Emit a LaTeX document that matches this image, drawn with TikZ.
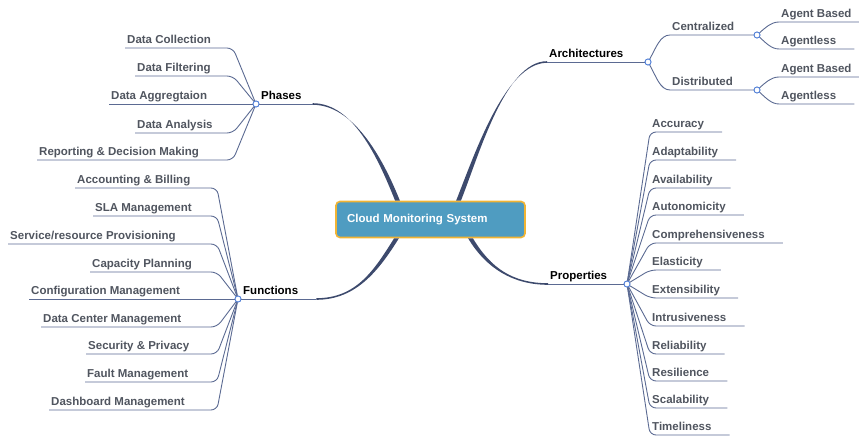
\documentclass[tikz,border=0pt]{standalone}
\usepackage{fontspec}
\setmainfont{Liberation Sans}

\definecolor{leafgray}{HTML}{50555F}
\definecolor{twigblue}{HTML}{5B6A92}
\definecolor{trunkblue}{HTML}{3D4A6D}
\definecolor{hubblue}{HTML}{4A7BD6}
\definecolor{rootfill}{HTML}{4F9CC1}
\definecolor{rootline}{HTML}{F1B434}

\begin{document}
\begin{tikzpicture}[x=1pt,y=-1pt]
\tikzstyle{every node}=[font=\bfseries\fontsize{11.5}{13}\selectfont]
\tikzstyle{leaf}=[anchor=south west,text=leafgray,inner xsep=2pt,inner ysep=1.5pt,text height=8.5pt,text depth=2.5pt]
\tikzstyle{topic}=[leaf,text=black]
\tikzstyle{hub}=[circle,draw=hubblue,fill=white,line width=0.8pt,inner sep=0pt,minimum size=6pt]
\tikzstyle{twig}=[draw=twigblue,line width=0.9pt]
\tikzstyle{elbow}=[twig,rounded corners=6pt]
\tikzstyle{root}=[rectangle,rounded corners=4pt,fill=rootfill,draw=rootline,line width=1.6pt,
  text=white,text width=167pt,inner xsep=11pt,align=left,minimum height=36pt]

\useasboundingbox (0,0) rectangle (859,436);

% centre and main branches
\node[root] (cms) at (430.5,219.5) {Cloud Monitoring System};
\coordinate (cnw) at ([xshift=-33pt]cms.north);
\coordinate (cne) at ([xshift=28pt]cms.north);
\coordinate (csw) at ([xshift=-34pt]cms.south);
\coordinate (cse) at ([xshift=40pt]cms.south);

\node[topic] (phases) at (259,104) {Phases};
\node[topic] (arch) at (547,62) {Architectures};
\node[topic] (func) at (241,299) {Functions};
\node[topic] (prop) at (548,284) {Properties};
\coordinate (pt) at ([xshift=9pt]phases.south east);
\coordinate (at) at (arch.south west);
\coordinate (ft) at ([xshift=16pt]func.south east);
\coordinate (rt) at (prop.south west);

\fill[trunkblue] ([yshift=0.8pt]pt) .. controls +(40,0) and +(-18,-45) .. ([xshift=-2.4pt]cnw)
  -- ([xshift=2.4pt]cnw) .. controls +(-18,-45) and +(40,0) .. ([yshift=-0.8pt]pt) -- cycle;
\fill[trunkblue] ([yshift=0.8pt]at) .. controls +(-42,0) and +(18,-45) .. ([xshift=2.4pt]cne)
  -- ([xshift=-2.4pt]cne) .. controls +(18,-45) and +(-42,0) .. ([yshift=-0.8pt]at) -- cycle;
\fill[trunkblue] ([yshift=0.8pt]ft) .. controls +(40,0) and +(-20,32) .. ([xshift=-2.4pt]csw)
  -- ([xshift=2.4pt]csw) .. controls +(-20,32) and +(40,0) .. ([yshift=-0.8pt]ft) -- cycle;
\fill[trunkblue] ([yshift=0.8pt]rt) .. controls +(-35,0) and +(18,30) .. ([xshift=2.4pt]cse)
  -- ([xshift=-2.4pt]cse) .. controls +(18,30) and +(-35,0) .. ([yshift=-0.8pt]rt) -- cycle;

% phases
\node[hub] (phub) at (256,104) {};
\coordinate (pbend) at (233,104);
\draw[twig] (pt) -- (phub);
\node[leaf] (p1) at (125,48) {Data Collection};
\node[leaf] (p2) at (135,76) {Data Filtering};
\node[leaf] (p3) at (109,104) {Data Aggregtaion};
\node[leaf] (p4) at (135,133) {Data Analysis};
\node[leaf] (p5) at (37,160) {Reporting \& Decision Making};
\draw[elbow] (p1.south west) -- (p1.south west -| pbend) -- (phub);
\draw[elbow] (p2.south west) -- (p2.south west -| pbend) -- (phub);
\draw[elbow] (p3.south west) -- (phub);
\draw[elbow] (p4.south west) -- (p4.south west -| pbend) -- (phub);
\draw[elbow] (p5.south west) -- (p5.south west -| pbend) -- (phub);

% functions
\node[hub] (fhub) at (238,299) {};
\coordinate (fbend) at (217,299);
\draw[twig] (ft) -- (fhub);
\node[leaf] (f1) at (75,188) {Accounting \& Billing};
\node[leaf] (f2) at (93,216) {SLA Management};
\node[leaf] (f3) at (8,244) {Service/resource Provisioning};
\node[leaf] (f4) at (90,272) {Capacity Planning};
\node[leaf] (f5) at (29,299) {Configuration Management};
\node[leaf] (f6) at (41,327) {Data Center Management};
\node[leaf] (f7) at (86,354) {Security \& Privacy};
\node[leaf] (f8) at (85,382) {Fault Management};
\node[leaf] (f9) at (49,410) {Dashboard Management};
\draw[elbow] (f1.south west) -- (f1.south west -| fbend) -- (fhub);
\draw[elbow] (f2.south west) -- (f2.south west -| fbend) -- (fhub);
\draw[elbow] (f3.south west) -- (f3.south west -| fbend) -- (fhub);
\draw[elbow] (f4.south west) -- (f4.south west -| fbend) -- (fhub);
\draw[elbow] (f5.south west) -- (fhub);
\draw[elbow] (f6.south west) -- (f6.south west -| fbend) -- (fhub);
\draw[elbow] (f7.south west) -- (f7.south west -| fbend) -- (fhub);
\draw[elbow] (f8.south west) -- (f8.south west -| fbend) -- (fhub);
\draw[elbow] (f9.south west) -- (f9.south west -| fbend) -- (fhub);

% architectures
\node[hub] (ahub) at (648,62) {};
\draw[twig] (at) -- (ahub);
\node[leaf] (c) at (670,35) {Centralized};
\node[leaf] (d) at (670,90) {Distributed};
\node[hub] (chub) at (757,35) {};
\node[hub] (dhub) at (757,90) {};
\draw[twig] (ahub) .. controls +(8,-14) and +(-10,0) .. (c.south west) -- (chub);
\draw[twig] (ahub) .. controls +(8,14) and +(-10,0) .. (d.south west) -- (dhub);
\node[leaf] (c1) at (779,22) {Agent Based};
\node[leaf] (c2) at (779,49) {Agentless};
\node[leaf] (d1) at (779,77) {Agent Based};
\node[leaf] (d2) at (779,104) {Agentless};
\draw[twig] (chub) .. controls +(8,-7) and +(-8,0) .. (c1.south west) -- ([xshift=8pt]c1.south east);
\draw[twig] (chub) .. controls +(8,7) and +(-8,0) .. (c2.south west) -- ([xshift=16pt]c2.south east);
\draw[twig] (dhub) .. controls +(8,-7) and +(-8,0) .. (d1.south west) -- ([xshift=8pt]d1.south east);
\draw[twig] (dhub) .. controls +(8,7) and +(-8,0) .. (d2.south west) -- ([xshift=16pt]d2.south east);

% properties
\node[hub] (rhub) at (627,284) {};
\draw[twig] (rt) -- (rhub);
\node[leaf] (r1) at (650,132) {Accuracy};
\node[leaf] (r2) at (650,160) {Adaptability};
\node[leaf] (r3) at (650,188) {Availability};
\node[leaf] (r4) at (650,215) {Autonomicity};
\node[leaf] (r5) at (650,243) {Comprehensiveness};
\node[leaf] (r6) at (650,270) {Elasticity};
\node[leaf] (r7) at (650,298) {Extensibility};
\node[leaf] (r8) at (650,326) {Intrusiveness};
\node[leaf] (r9) at (650,354) {Reliability};
\node[leaf] (r10) at (650,381) {Resilience};
\node[leaf] (r11) at (650,408) {Scalability};
\node[leaf] (r12) at (650,435) {Timeliness};
\draw[elbow] (rhub) -- (r1.south west) -- ([xshift=16pt]r1.south east);
\draw[elbow] (rhub) -- (r2.south west) -- ([xshift=16pt]r2.south east);
\draw[elbow] (rhub) -- (r3.south west) -- ([xshift=16pt]r3.south east);
\draw[elbow] (rhub) -- (r4.south west) -- ([xshift=16pt]r4.south east);
\draw[elbow] (rhub) -- (r5.south west) -- ([xshift=16pt]r5.south east);
\draw[elbow] (rhub) -- (r6.south west) -- ([xshift=16pt]r6.south east);
\draw[elbow] (rhub) -- (r7.south west) -- ([xshift=16pt]r7.south east);
\draw[elbow] (rhub) -- (r8.south west) -- ([xshift=16pt]r8.south east);
\draw[elbow] (rhub) -- (r9.south west) -- ([xshift=16pt]r9.south east);
\draw[elbow] (rhub) -- (r10.south west) -- ([xshift=16pt]r10.south east);
\draw[elbow] (rhub) -- (r11.south west) -- ([xshift=16pt]r11.south east);
\draw[elbow] (rhub) -- (r12.south west) -- ([xshift=16pt]r12.south east);

% hubs on top of the lines
\foreach \h in {phub,fhub,ahub,chub,dhub,rhub}
  \node[hub] at (\h) {};
\end{tikzpicture}
\end{document}
